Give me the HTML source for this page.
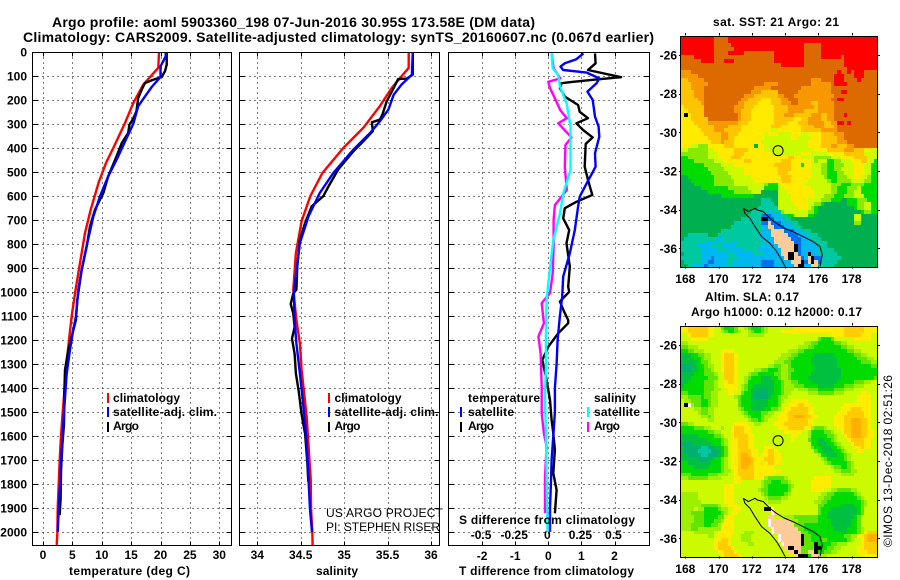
<!DOCTYPE html>
<html lang="en">
<head>
<meta charset="utf-8">
<title>Argo profile 5903360_198</title>
<style>
html,body{margin:0;padding:0;background:#fff;}
svg{display:block;}
text{font-family:"Liberation Sans",sans-serif;fill:#000;}
.b{font-weight:bold;font-size:12px;}
.t{font-weight:bold;font-size:14px;}
.n{font-size:12px;}
</style>
</head>
<body>
<svg id="chart" width="900" height="580" viewBox="0 0 900 580" xmlns="http://www.w3.org/2000/svg">
<rect x="0" y="0" width="900" height="580" fill="#fff"/>
<text class="t" x="52" y="27" textLength="483" lengthAdjust="spacing">Argo profile: aoml 5903360_198 07-Jun-2016 30.95S 173.58E (DM data)</text>
<text class="t" x="23" y="42" textLength="631" lengthAdjust="spacing">Climatology: CARS2009. Satellite-adjusted climatology: synTS_20160607.nc (0.067d earlier)</text>
<g id="plots"></g>
<g id="maps"></g>

<text class="b" x="69" y="575" textLength="121" lengthAdjust="spacing">temperature (deg C)</text>
<text class="b" x="316" y="575" textLength="42" lengthAdjust="spacing">salinity</text>
<text class="b" x="459" y="575" textLength="175" lengthAdjust="spacing">T difference from climatology</text>
<text class="b" x="459" y="524" textLength="176" lengthAdjust="spacing">S difference from climatology</text>

<g>
<rect x="107" y="393" width="2" height="10" fill="#f00"/>
<text class="b" x="113" y="402" textLength="67" lengthAdjust="spacing">climatology</text>
<rect x="107" y="407" width="2" height="10" fill="#00f"/>
<text class="b" x="113" y="416" textLength="104" lengthAdjust="spacing">satellite-adj. clim.</text>
<rect x="107" y="422" width="2" height="10" fill="#000"/>
<text class="b" x="113" y="430" textLength="26" lengthAdjust="spacing">Argo</text>
</g>
<g>
<rect x="328" y="393" width="2" height="10" fill="#f00"/>
<text class="b" x="334.5" y="402" textLength="67" lengthAdjust="spacing">climatology</text>
<rect x="328" y="407" width="2" height="10" fill="#00f"/>
<text class="b" x="334.5" y="416" textLength="104" lengthAdjust="spacing">satellite-adj. clim.</text>
<rect x="328" y="422" width="2" height="10" fill="#000"/>
<text class="b" x="334.5" y="430" textLength="26" lengthAdjust="spacing">Argo</text>
</g>
<g>
<text class="b" x="468" y="402" textLength="72" lengthAdjust="spacing">temperature</text>
<rect x="460" y="407" width="2" height="10" fill="#00f"/>
<text class="b" x="468" y="416" textLength="46" lengthAdjust="spacing">satellite</text>
<rect x="460" y="422" width="2" height="10" fill="#000"/>
<text class="b" x="468" y="430" textLength="26" lengthAdjust="spacing">Argo</text>
<text class="b" x="594" y="402" textLength="42" lengthAdjust="spacing">salinity</text>
<rect x="587" y="407" width="2" height="10" fill="#0ff"/>
<text class="b" x="594" y="416" textLength="46" lengthAdjust="spacing">satellite</text>
<rect x="587" y="422" width="2" height="10" fill="#f0f"/>
<text class="b" x="594" y="430" textLength="26" lengthAdjust="spacing">Argo</text>
</g>
<text class="n" x="326" y="517" textLength="117" lengthAdjust="spacing">US ARGO PROJECT</text>
<text class="n" x="326" y="531" textLength="114" lengthAdjust="spacing">PI: STEPHEN RISER</text>

<text class="b" x="713" y="26" textLength="126" lengthAdjust="spacing">sat. SST: 21 Argo: 21</text>
<text class="b" x="705" y="301" textLength="94" lengthAdjust="spacing">Altim. SLA: 0.17</text>
<text class="b" x="691" y="316" textLength="171" lengthAdjust="spacing">Argo h1000: 0.12 h2000: 0.17</text>
<text class="n" transform="translate(892,547) rotate(-90)" x="0" y="0" textLength="172" lengthAdjust="spacing">©IMOS 13-Dec-2018 02:51:26</text>
</svg>

<script>
// ---------- tick labels ----------
const depthTicks = [0,100,200,300,400,500,600,700,800,900,1000,1100,1200,1300,1400,1500,1600,1700,1800,1900,2000];
const tempTicks = [0,5,10,15,20,25,30];
const salTicks = [34,34.5,35,35.5,36];
const salTickLabels = ['34','34.5','35','35.5','36'];
const dTTicks = [-2,-1,0,1,2];
const dSTicks = [-0.5,-0.25,0,0.25,0.5];
const dSTickLabels = ['-0.5','-0.25','0','0.25','0.5'];
const lonTicks = [168,170,172,174,176,178];
const latTicks = [-26,-28,-30,-32,-34,-36];

// ---------- temperature panel ----------
const tempClimDepth = [0,66,136,212,296,400,462,543,657,754,879,990,1100,1200,1300,1400,1500,1600,1700,1800,1900,2000,2054];
const tempClimValue = [19.74,19.62,17.07,15.37,13.95,11.97,10.72,9.47,8.11,7.15,6.3,5.55,4.88,4.42,4.0,3.7,3.35,3.06,2.84,2.67,2.5,2.45,2.33];
const tempSatDepth = [0,18,60,104,146,185,226,299,365,435,518,601,685,796,907,990,1100,1170,1240,1340,1440,1550,1640,1750,1860,1970,2000];
const tempSatValue = [20.87,20.87,20.0,20.0,18.5,17.36,16.2,15.37,14.1,12.8,11.1,9.7,8.57,7.54,6.58,6.0,5.62,5.05,4.6,4.03,3.74,3.46,3.23,3.0,2.78,2.55,2.5];
const tempArgoDepth = [0,53,80,104,115,129,157,192,247,282,303,337,379,435,518,587,657,726,810,907,990,1033,1117,1185,1255,1325,1425,1550,1640,1750,1860,1930];
const tempArgoValue = [21.04,21.04,20.76,20.2,18.8,17.36,16.8,16.2,15.9,15.26,14.7,14.5,13.4,12.5,11.1,10.27,8.85,8.0,7.43,6.58,6.1,5.84,5.6,4.88,4.2,3.74,3.63,3.57,3.29,3.06,3.0,2.84];

// ---------- salinity panel ----------
const salClimDepth = [0,66,150,226,316,400,504,601,705,837,990,1117,1214,1325,1425,1525,1640,1780,1905,2000,2054];
const salClimValue = [35.743,35.743,35.547,35.41,35.22,34.99,34.75,34.61,34.51,34.445,34.415,34.45,34.49,34.51,34.54,34.57,34.59,34.615,34.62,34.633,34.637];
const salSatDepth = [0,94,136,178,240,289,337,407,504,587,685,796,962,1000,1117,1214,1340,1440,1550,1640,1780,1905,2000];
const salSatValue = [35.79,35.78,35.66,35.57,35.51,35.41,35.3,35.105,34.875,34.72,34.59,34.49,34.434,34.42,34.43,34.45,34.49,34.52,34.55,34.57,34.59,34.607,34.63];
const salArgoDepth = [0,94,111,113,150,206,261,282,293,330,372,414,490,560,601,643,712,782,893,990,1006,1050,1090,1146,1194,1257,1340,1410,1510,1590,1710,1790];
const salArgoValue = [35.79,35.79,35.72,35.62,35.57,35.49,35.44,35.41,35.32,35.33,35.22,35.105,34.93,34.82,34.76,34.626,34.55,34.49,34.46,34.45,34.415,34.385,34.415,34.43,34.40,34.43,34.445,34.476,34.51,34.55,34.576,34.587];

// ---------- difference panel ----------
const dTSatDepth = [6,30,47,61,75,86,110,130,165,200,269,311,353,422,478,547,603,644,742,839,936,1019,1100,1200,1300,1400,1500,1600,1700,1800,1900,2000];
const dTSatValue = [1.06,0.85,0.5,0.37,0.45,1.16,1.54,1.46,1.18,1.34,1.41,1.52,1.54,1.41,1.43,1.16,0.95,0.9,0.8,0.65,0.45,0.42,0.35,0.28,0.25,0.2,0.2,0.15,0.1,0.08,0.05,0.05];
const dTArgoDepth = [6,47,75,105,114,124,130,151,186,221,249,276,297,325,356,383,478,533,596,624,651,693,742,797,894,978,999,1040,1080,1117,1130,1172,1228,1283,1367,1450,1533,1589,1658,1755,1825,1922];
const dTArgoValue = [1.41,1.43,1.2,2.2,1.46,0.75,0.4,0.35,0.5,0.9,0.95,1.2,0.85,1.05,1.34,1.13,1.1,1.2,1.33,0.85,0.5,0.45,0.63,0.55,0.65,0.6,0.63,0.35,0.47,0.6,0.6,0.3,0,-0.18,-0.05,0.05,0.1,0.15,0.2,0.15,0.25,0.2];
const dSArgoDepth = [6,68,110,124,151,193,242,276,297,356,387,478,575,638,700,811,922,1005,1033,1047,1130,1186,1255,1394,1505,1589,1644,1769,1922];
const dSArgoValue = [0.025,0.04,0.09,0,0.0125,0.05,0.09,0.14,0.075,0.175,0.13,0.125,0.14,0.05,0.04,0.04,0.033,0.0125,-0.03,-0.05,-0.033,-0.075,-0.058,-0.05,-0.05,-0.033,-0.0125,-0.025,-0.025];
const dSSatDepth = [6,68,96,144,214,311,492,589,672,783,964,1033,1172,1310,1450,1590,1760,2000];
const dSSatValue = [0.025,0.033,0.075,0.088,0.138,0.168,0.168,0.113,0.088,0.038,0,-0.0125,-0.018,-0.018,-0.025,-0.018,-0.0125,-0.005];

// ---------- map data: run-length rows, letter = colour level, number = cell count ----------
const sstRows = [
"r10o4r45","r10o4r45","r10o5r22o5r17","r10o6r21o5r17","r10o4r5o9r9o5r17","o4r6o18r9o5r6o1r10",
"o6r4o3r3o12r9o12r10","o30r7o12r10","o50r9","g3o44r1o2r1o1r3o4","g5o41r3o3r3o4","a2g5o32g3o4r3o4r1o5",
"a3g5o17g4o10g6o1r4o9","a3g4o15g5o9g9o14","a4g3o14g3a5o6g10o3r2o9","a4g3o12g3a7g2o3g12o13",
"a5g2o11g2a4y3a3g2o3g10o2r2o10","a6g1o10g2a4y4a3g3o2g4a2g5o13","y1a6o9g3a3y6a4g8a1g5o13",
"y2a5o9g2a3y7a4g5a4g5o13","y1k1y1a4o10g1a3y7a3g3a5g3a2g2o3r1o9","y3a5o9g1a3y7a6y2a2g4a2g2o13",
"y4a4g9a3y8a4y3a3g5a2g2r2o1r1o8","y5a5g4a4y9a3y6a4g3a3g1o12","y6a4g3a5y9l2y7a6g5o12",
"y7a5g2a3y8l1y3l4y3l2y4a4g3o10","y8a4g2a2y9l8y2l4y3a5g2o10","y9a3g1a3y8l14y4a5g3o9",
"y3l2m3y5a3y6t1y2l13y4a3g2a3g2o7","l2m6l2y6a4y5l15y4a5g3a3y2l2","m8l3y5a3y8l9y3l5y5a6l4",
"n2m6l3y4a3y14a2y2l4m5l3y4a4l3","n4m6l3y6a2y9a3y6l1m1l3n2m2l3y3a2l2n1","n7m5l4y12a5y2y1n1y2l3m2n2m3l3y3l2n2",
"n8m5l6y10a4y6l3m2n2m2l4y3l2n2","n9m5l5y10a3y7l3m2n3m2l3y3l2n2","t2n8m5l6y9a3y6l4m1n3m3l2y2l2m1n2",
"t3n7m6l6y8a3y5l6m1n2m4l4m2n2","t4n6m6l9m1n3l1y7l8m3n3m4n4","t6n8m6l5n4l2y8l6m2n3m3l1n5",
"t8n8m5l3t5l3y8l5m2n3m2l2n5","t12n10t7l4y7l3m3n3m3l3n4","t24c3t2l4y5l4m3n3t2n3m3n3",
"t24c4t1l5y4l2m2n1t7n3m2l2n2","t23c6l6y3l1m1n1t11n1m2l2n2","t21c5b1c3m1l7m2n1t13n1m2n2",
"t20c4d3b3c2n2l4n2t12l2t5","t18c6k2d2b3c2t19l2t5","t16c8d2p1d3b3c2t17m2t5",
"t15c9b2p2d3b3c2t23","t12c12b3p4d3b3c2t20","t2c6t3c12b4p5d3b3c3t18",
"t1c10b2c11b4p5d3b3c3t17","c8b3c4b2c9b2p6d2b4c4t15","c5b4c3b4c8b5p5k1d1b5c3t15",
"c6b5c3b5c4b7p4k1d1b5c5t13","t1c5b8c2b6c3b5p2k2p1d1b2k1b2c6t12","c6b3d1b4c3b5b9p1k2p2d1b1p1k1d2c6t11",
"t1c5b2d2b4c2b4b4d4b5p3k1d1p1k1p1d1c5t12","t2c2b3d1b6c1b9d4b6p1k2b2p2c5t13"
];
const slaRows = [
"y2a6y2l2g1n3g1l2m1g1n3g1m1l3l5y10y5a6y4","y2a6y2l2m1g1n2g1m1l2m1g1n2g1m1l4y19a6y4","l2y1a5y2l10m5l20y4a5y3l2",
"l3y5l33g1n3g1l6y5l2","m2l35m2g2n5g2m2l9","g2m3l30m3g2n8g2m2l7",
"n2g2m3l5y4l16m3g2n13g2m2l5","t3n2g2m2l3y1a3y1l13m3g2n5t6n6g2m2l3","t4n2g1m2l3y1a3y1l12m3g2n5t8n6g3m2l1",
"t5n1g2m1l3y1a3y1l11m3g2n6t8n7g3m2","e3t2n2g1m2l2y1a3y1l9m2g2m2g1n7t7n10g2","e3t2n2g2m1l2y1a3y1l5m2g2n3g1m2g2n6t8n11",
"t4n3g3m1l2a3y1l3m1g2n5g2m2g1n6t9n11","t3n5g3l2a3y1l2m1g1n3t3n2g1m2g1n5t10n10g1","t2n5g3m1l2y1a2y1l2m1n4t4n2g1m2g2n4t8n5g3m2l2",
"t1n6g3m1l2y4l1m1g1n2t6n2g1m3g3n4t5n3g3m3l4","n7g3m2l2y3l1m1g1n1t3e2t2n2g1m3l1m3g3n5g3m3l7","g2n5g2m2l3y2l2g1n2t1e4t2n2g1m2l5m3g5m3l5y2l3",
"m2g4n1g2m2l5m1g1n3t1e4t1n2g1m2l21y4l2","l1m2g3n2g1m2l6g1n3t5n3g1m1l2y5l15y4l2","l1k1w1m1g2n2g1m2l6g1n3t5n3g1l2y3a2y2l10y8l2",
"l4m2g2m2l7m1g1n2t4n2g2m1l1y2a5y2l8y3a3y3l2","l5m1g2m2l8m1g1n4g2m2l2y2a6y2l7y3a5y2l2","l6m2g1m1l9m1g1n3g1m2l2y3a2o3a2y2l5y3a6y2l2",
"l8m2l10m1g2n1g1m1l3y3a6y2l6y3a2o3a2y1l2","g2m2l7l5y4l2m2l4y3a7y2l6y3a2o3a2y1l2","n4g3m2l3m1l2y1a3y2l8y3a5y2m1g3m1l3y2a2o3a2y1l2",
"n8g2m2l3y1a3y2l10y5l2m1n4g2m1l2y1a2o3a2y2l1","t5n5g2m1l2y1a4y2l11y2l3m1n5g2m1l2y1a1o3a2y2l1","t8n4g1m1l1y2a3y2l11y1l4g1n2t2n2g1m1l3y1a4y2l2",
"e3t6n3g1m1l1y2a3y2l17n2t3n2g1m1l3y1a3y2l2","t1e5c2e2t2n1g1l1y2a3y2l3y2l12g1n2t3n2g1m1l3y2a1y2l2","t1e4c4e2t1n1g1l1y2a4y2l2y1a2y1l11g1n1t4n2g1m1l3y2l4",
"t2e4c2e3t1n1g1l1y2a1o2a1y2l1y2a2y2l11m1n2t3n2g1m1l8","t5e3t2n2g1m1l1y2a1o3a1y2y1a3y2l12m1g1n5g1m1l8","n2t7n3g1m1l1y2a1o3a1y2l1y1a2y2l13m1g1n5g1m1l7",
"n4t4n4g1m1l1y2a1o2a2y6l2l15m1g2n2g1m1l7","n12g1m2l1y1a5y8l16m2g3m2l6","g3n5g3m3l2y1a5y6l2l18m4l7",
"m2g6m4l4y2a4y3m1g5m1l8y5l14","l16y2l6m1g2n3g2m1l6y6l14","l13y3l8m1g1n6g1m1l5y6l14",
"l13y3l7m1g2n6g1l6y4l2m2g4m2l6","m5l8y3l8m1g1n5g1m1l9m2g2n6g1m1l5","m5l8y3l9m1g4m2l9m2g2n8g1m1l4",
"m6l7y3l10m4l10m2g2n10g1m1l3","m6g5m1l2y3l24g2n5t4n2g1m1l3","m4l1m2n4g1m2l2y2l7k2w1l13g1n3t8n1g1l4",
"m3g4n5g1m1l1y2l10w1p1l12g1n2t9n1g1l4","m4g3n4g2l1y2l10p2l3m3g7n3t8n1g1l5","m4g3n3g2m1y3l10w1p6m2g6n4t6n2g1l5",
"m3g4n2g2m1y4l10w1p7g3n8t6n2g1l5","m3g2m7y4l11w1p7g2n9t4n3g1m1l4","l4m6l1y5l3m3l5w1p8g2n10t2n3g1m1y1a3",
"l8m2l1y4l3m3l8w1p6k1g2n10g2m2y2a1o3","l10y2a2y1l3m3l8w1p6k1g2n3g2n6g1m1l2y1a1o3","l10y1a3y1l5m2l8w1p5k1g3k1n4g2m3l4y1a4",
"l10y1a4y1l15p1k2p2g4k2n2g2m2l5y2a4","l11y2a3y1l15p2k1p1g2p2k1n2g2m2l6y3a3","l12y1a4y1l16p1k3n1p3m2l10y5"
];
const sstColors = {r:'#ff0000',o:'#dd6a00',g:'#f89800',a:'#ffc400',y:'#ffea00',l:'#ccfa00',m:'#88ea00',n:'#00dc00',t:'#00b050',c:'#00c8a0',b:'#00b8f0',d:'#0070f0',k:'#000000',p:'#ffcc99'};
const slaColors = {o:'#ffb000',a:'#ffcc00',y:'#ffec00',l:'#ccfa00',m:'#9cf000',g:'#60e400',n:'#00dc00',t:'#00c040',e:'#00b070',c:'#00c8a0',k:'#000000',p:'#ffcc99',w:'#ffffff'};

// ---------- coastline / shelf contour (lon, lat) ----------
const shelfLon = [171.49,171.59,171.89,172.19,172.59,173.09,173.49,173.79,173.99];
const shelfLat = [-33.93,-34.19,-34.45,-34.88,-35.40,-35.74,-36.17,-36.60,-36.93];
const shelfUpperLon = [171.49,171.79,172.19,172.33,172.69,173.09,173.49,173.99,174.49,175.09,175.69,176.10,176.24,176.10];
const shelfUpperLat = [-33.93,-34.10,-33.93,-34.02,-34.10,-34.45,-34.71,-34.97,-35.14,-35.40,-35.66,-35.91,-36.34,-36.93];
const floatLon = [173.58];
const floatLat = [-30.95];

// ---------- axis functions ----------
const NS = 'http://www.w3.org/2000/svg';
const PANEL_TOP = 52.5, PANEL_BOTTOM = 545.5;
function yDepth(d){ return 52 + 0.24*d; }
function xTemp(t){ return 43 + 5.877*t; }
function xSal(s){ return 257.3 + 86.85*(s-34); }
function xDT(t){ return 548.3 + 33.1*t; }
function xDS(s){ return 548.3 + 132.4*s; }
function mapX(lon){ return 685.3 + 16.63*(lon-168); }
function mapY(lat, top){ return top + 19.7 + 19.33*(-26-lat); }
const MAP_LON0 = 167.75, MAP_LAT0 = -25, MAP_STEP = 0.2;

function make(tag, parent, attrs){
  const el = document.createElementNS(NS, tag);
  for(const k in attrs){ el.setAttribute(k, attrs[k]); }
  parent.appendChild(el);
  return el;
}
function drawLabel(parent, name, str, x, y, anchor){
  const t = make('text', parent, {x:x, y:y, 'text-anchor':anchor, class:'b'});
  
  
  t.textContent = str;
}
function drawSeries(parent, name, values, depths, xf, color, width){
  const pts = values.map((v,i)=>xf(v).toFixed(1)+','+yDepth(depths[i]).toFixed(1)).join(' ');
  const l = make('polyline', parent, {points:pts, fill:'none', stroke:color, 'stroke-width':width, 'stroke-linejoin':'round'});
  
  
}
function drawTick(parent, x1, y1, x2, y2){
  const tk = make('line', parent, {x1:x1, y1:y1, x2:x2, y2:y2, stroke:'#000', 'stroke-width':1, 'shape-rendering':'crispEdges'});
  
  
}
function drawPanel(name, left, right, xf, ticks, labels, tickBaseline){
  const root = document.getElementById('plots');
  const g = make('g', root, {});
  
  
  depthTicks.forEach(d=>{
    const y = Math.round(yDepth(d))+0.5;
    const line = make('line', g, {x1:left, x2:right, y1:y, y2:y, stroke:'#000', 'stroke-dasharray':'1 4', 'stroke-width':1, 'shape-rendering':'crispEdges'});
    
    
    drawTick(g, left, y, left+5, y);
    drawTick(g, right-5, y, right, y);
  });
  ticks.forEach((t,i)=>{
    const x = Math.round(xf(t))+0.5;
    const line = make('line', g, {x1:x, x2:x, y1:PANEL_TOP, y2:PANEL_BOTTOM, stroke:'#000', 'stroke-dasharray':'1 4', 'stroke-width':1, 'shape-rendering':'crispEdges'});
    
    
    drawTick(g, x, PANEL_TOP, x, PANEL_TOP+4);
    drawTick(g, x, PANEL_BOTTOM-4, x, PANEL_BOTTOM);
    drawLabel(g, 'x-tick-label', labels[i], xf(t), tickBaseline, 'middle');
  });
  return g;
}
function frame(g, left, right, top, bottom){
  const r = make('rect', g, {x:left, y:top, width:right-left, height:bottom-top, fill:'none', stroke:'#000', 'stroke-width':1, 'shape-rendering':'crispEdges'});
  
  
}

// ---------- profile panels ----------
const gTemp = drawPanel('temperature-panel', 32.5, 231.5, xTemp, tempTicks, tempTicks.map(String), 559);
depthTicks.forEach(d=>{ drawLabel(gTemp, 'depth-tick-label', String(d), 27, yDepth(d)+4.5, 'end'); });
drawSeries(gTemp, 'temperature-climatology-line', tempClimValue, tempClimDepth, xTemp, '#ff0000', 2.4);
drawSeries(gTemp, 'temperature-argo-line', tempArgoValue, tempArgoDepth, xTemp, '#000000', 2.4);
drawSeries(gTemp, 'temperature-satellite-line', tempSatValue, tempSatDepth, xTemp, '#0000ff', 2.4);
frame(gTemp, 32.5, 231.5, PANEL_TOP, PANEL_BOTTOM);

const gSal = drawPanel('salinity-panel', 239.5, 439.5, xSal, salTicks, salTickLabels, 559);
drawSeries(gSal, 'salinity-climatology-line', salClimValue, salClimDepth, xSal, '#ff0000', 2.4);
drawSeries(gSal, 'salinity-argo-line', salArgoValue, salArgoDepth, xSal, '#000000', 2.4);
drawSeries(gSal, 'salinity-satellite-line', salSatValue, salSatDepth, xSal, '#0000ff', 2.4);
frame(gSal, 239.5, 439.5, PANEL_TOP, PANEL_BOTTOM);

const gDiff = drawPanel('difference-panel', 448.5, 649.5, xDT, dTTicks, dTTicks.map(String), 560);
dSTicks.forEach((s,i)=>{ drawLabel(gDiff, 's-difference-tick-label', dSTickLabels[i], xDS(s)-1, 539, 'middle'); });
drawSeries(gDiff, 't-diff-argo-line', dTArgoValue, dTArgoDepth, xDT, '#000000', 2.4);
drawSeries(gDiff, 't-diff-satellite-line', dTSatValue, dTSatDepth, xDT, '#0000ff', 2.4);
drawSeries(gDiff, 's-diff-argo-line', dSArgoValue, dSArgoDepth, xDS, '#ff00ff', 2.4);
drawSeries(gDiff, 's-diff-satellite-line', dSSatValue, dSSatDepth, xDS, '#00ffff', 2.4);
frame(gDiff, 448.5, 649.5, PANEL_TOP, PANEL_BOTTOM);

// ---------- maps ----------
function expandRow(row){
  let out = '';
  row.replace(/([a-z])(\d+)/g, (m,ch,n)=>{ out += ch.repeat(+n); return m; });
  return out.slice(0,59).padEnd(59, out[out.length-1]);
}
function drawMap(name, rows, colors, top, tickBaseline){
  const root = document.getElementById('maps');
  const g = make('g', root, {});
  
  
  rows.forEach((row,i)=>{
    const cells = expandRow(row);
    const y0 = Math.round(mapY(MAP_LAT0 - i*MAP_STEP, top));
    const y1 = Math.round(mapY(MAP_LAT0 - (i+1)*MAP_STEP, top));
    for(let j=0;j<59;j++){
      const x0 = Math.round(mapX(MAP_LON0 + j*MAP_STEP));
      const x1 = Math.round(mapX(MAP_LON0 + (j+1)*MAP_STEP));
      const c = make('rect', g, {x:x0, y:y0, width:x1-x0, height:y1-y0, fill:colors[cells[j]], 'shape-rendering':'crispEdges'});
      
      
    }
  });
  [[shelfLon,shelfLat],[shelfUpperLon,shelfUpperLat]].forEach(([lo,la])=>{
    const pts = lo.map((v,i)=>mapX(v).toFixed(1)+','+mapY(la[i],top).toFixed(1)).join(' ');
    const l = make('polyline', g, {points:pts, fill:'none', stroke:'#000', 'stroke-width':1});
    
    
  });
  const ci = make('circle', g, {cx:mapX(floatLon[0]), cy:mapY(floatLat[0],top), r:5, fill:'none', stroke:'#000', 'stroke-width':1});
  
  
  const L = 681, R = 877.5, T = top+0.3, B = top+231.3;
  lonTicks.forEach(lon=>{
    const x = Math.round(mapX(lon))+0.5;
    [[T-2.5,T],[B,B+2]].forEach(([a,b])=>{
      const tk = make('line', g, {x1:x, x2:x, y1:a, y2:b, stroke:'#000', 'stroke-width':1, 'shape-rendering':'crispEdges'});
      
      
    });
    drawLabel(g, 'longitude-label', String(lon), mapX(lon), tickBaseline, 'middle');
  });
  latTicks.forEach(lat=>{
    const y = Math.round(mapY(lat,top))+0.5;
    [[L-2,L],[R,R+2.5]].forEach(([a,b])=>{
      const tk = make('line', g, {x1:a, x2:b, y1:y, y2:y, stroke:'#000', 'stroke-width':1, 'shape-rendering':'crispEdges'});
      
      
    });
    drawLabel(g, 'latitude-label', String(lat), 677, mapY(lat,top)+4.5, 'end');
  });
  frame(g, L-0.5, R, Math.round(T)+0.5, Math.round(B)+0.5);
}
drawMap('sst-map', sstRows, sstColors, 35.3, 283);
drawMap('sla-map', slaRows, slaColors, 325.3, 573);
</script>
</body>
</html>
